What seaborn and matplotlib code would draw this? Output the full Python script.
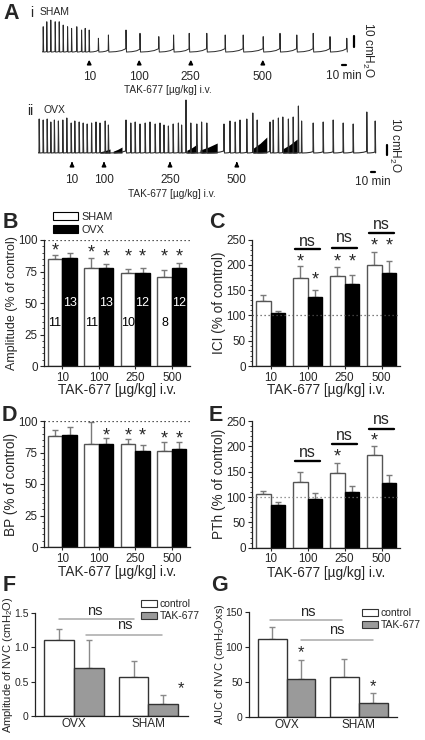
import numpy as np
import pandas as pd
import matplotlib
matplotlib.use("Agg")
import matplotlib.pyplot as plt
from matplotlib.patches import Patch
from matplotlib.ticker import MultipleLocator
import seaborn as sns

# ---------------- data ----------------
dose_labels = ["10", "100", "250", "500"]
groups = ["SHAM", "OVX"]

# panel A: cystometry traces, time in min, void height in cmH2O above baseline
sham_dose_min = [118, 243, 372, 552]
sham_void_min = [3, 12, 22, 33, 43, 53, 64, 74, 87, 99, 108, 118,
                 141, 166, 210, 245, 292, 329, 368, 412, 458, 503, 553, 595, 637, 678, 720, 762]
sham_void_cm = [23, 27.5, 29, 27.5, 27.5, 24.5, 23, 21.5, 23, 20, 21.5, 20,
                12.5, 15.5, 20, 17, 14, 15.5, 17, 17, 15.5, 15.5, 14, 17, 15.5, 17, 14, 12.5]

ovx_dose_min = [85, 165, 330, 497]
ovx_void_min = [3, 13, 23, 32, 41, 51, 62, 72, 83, 92,
                103, 113, 123, 134, 145, 155, 168, 176, 220, 232,
                243, 255, 268, 280, 293, 305, 315, 326, 338, 351,
                359, 370, 382, 397, 409, 422, 465, 480, 493, 505,
                522, 537, 548, 580, 588, 601, 612, 626, 638, 651,
                659, 688, 713, 738, 763, 788, 822, 843]
ovx_void_cm = [34, 33, 34, 31, 33, 32, 33, 35, 30, 32,
               31, 30, 29, 30, 31, 30, 32, 28, 33, 30,
               31, 29, 30, 31, 29, 30, 28, 27, 29, 30,
               28, 53, 30, 29, 31, 30, 29, 32, 31, 33,
               34, 40, 33, 31, 33, 35, 36, 34, 36, 47,
               32, 30, 31, 33, 30, 29, 41, 32]
# non-voiding contraction clusters in OVX trace
ovx_nvc_start = [155, 188, 372, 405, 538, 612]
ovx_nvc_end = [180, 210, 398, 448, 572, 648]
ovx_nvc_cm = [4, 6, 9, 10, 16, 14]

# panels B-E: % of control, mean and SEM
amp_sham = [85, 78, 74, 71]
amp_sham_sem = [3, 7.5, 3, 5]
amp_ovx = [86, 78, 74, 78]
amp_ovx_sem = [3.5, 3, 4, 4]
amp_n_sham = [11, 11, 10, 8]
amp_n_ovx = [13, 13, 12, 12]

ici_sham = [128, 173, 177, 200]
ici_sham_sem = [12, 25, 18, 25]
ici_ovx = [104, 137, 163, 183]
ici_ovx_sem = [5, 14, 17, 24]

bp_sham = [88, 82, 82, 76]
bp_sham_sem = [5, 17, 3.5, 7]
bp_ovx = [89, 82, 76, 78]
bp_ovx_sem = [6.5, 4.5, 5, 5]

pth_sham = [105, 130, 148, 183]
pth_sham_sem = [7.5, 19, 20, 18]
pth_ovx = [84, 96, 110, 127]
pth_ovx_sem = [7, 11, 11, 16]

# significance marks: (dose index, group index, y)
amp_stars = [(0, 0, 95), (1, 0, 93), (1, 1, 90), (2, 0, 90), (2, 1, 90), (3, 0, 90), (3, 1, 90)]
ici_stars = [(1, 0, 215), (1, 1, 178), (2, 0, 215), (2, 1, 215), (3, 0, 246), (3, 1, 246)]
bp_stars = [(1, 1, 91.5), (2, 0, 91.5), (2, 1, 91.5), (3, 0, 89), (3, 1, 89)]
pth_stars = [(2, 0, 187), (3, 0, 219)]
# ns bars: (dose index, line y, text y)
ici_ns = [(1, 231, 246), (2, 234, 253), (3, 262, 279)]
pth_ns = [(1, 172, 187), (2, 204, 222), (3, 234, 252)]

# panels F, G: non-voiding contractions
nvc_groups = ["OVX", "SHAM"]
treatments = ["control", "TAK-677"]
nvc_amp_control = [1.1, 0.57]
nvc_amp_control_sem = [0.17, 0.23]
nvc_amp_tak = [0.7, 0.17]
nvc_amp_tak_sem = [0.41, 0.14]
nvc_auc_control = [111, 57]
nvc_auc_control_sem = [18, 26]
nvc_auc_tak = [54, 20]
nvc_auc_tak_sem = [27, 14]
# ns brackets: (x0, x1, line y, text x, text y)
nvc_amp_ns = [(-0.2, 0.8, 1.41, 0.28, 1.53), (0.16, 1.18, 1.18, 0.68, 1.33)]
nvc_auc_ns = [(-0.23, 0.77, 138.6, 0.29, 150), (0.2, 1.2, 110, 0.70, 124)]
nvc_amp_stars = [(1.43, 0.45)]
nvc_auc_stars = [(0.2, 97), (1.2, 48.6)]

# ---------------- style ----------------
sns.set_style("ticks")
plt.rcParams["font.family"] = ["Liberation Sans", "DejaVu Sans"]
plt.rcParams["mathtext.fontset"] = "custom"
plt.rcParams["mathtext.rm"] = "Liberation Sans"
plt.rcParams["mathtext.it"] = "Liberation Sans:italic"
plt.rcParams["axes.linewidth"] = 0.9
plt.rcParams["axes.edgecolor"] = "#222222"
plt.rcParams["xtick.major.size"] = 2.5
plt.rcParams["ytick.major.size"] = 3
plt.rcParams["xtick.major.pad"] = 1.5
plt.rcParams["ytick.major.pad"] = 1.5

W, H = 425, 740
fig = plt.figure(figsize=(W / 100, H / 100), dpi=100)


def add_axes(l, t, r, b):
    return fig.add_axes([l / W, 1 - b / H, (r - l) / W, (b - t) / H])


def letter(x, y, s):
    fig.text(x / W, 1 - y / H, s, fontsize=15.5, fontweight="bold", va="top", ha="left")


def star(ax, x, y, size=13):
    # the asterisk sits high in its text box, so nudge it down to centre the glyph on y
    ax.annotate("*", xy=(x, y), xytext=(0, -0.24 * size), textcoords="offset points",
                ha="center", va="center", fontsize=size, annotation_clip=False)


def sawtooth(times, heights, fill, lead=6):
    xs, ys = [times[0] - lead], [0.0]
    prev = times[0] - lead
    for t, h in zip(times, heights):
        gap = t - prev
        f = fill * min(1.0, gap / 40)
        xs += [prev + 0.4 * gap, t - 0.25 * gap, t - 0.6, t, t + 1.2]
        ys += [0.12 * f, 0.45 * f, f, h, 0.0]
        prev = t + 1.2
    return xs, ys


def trace_panel(ax, times, heights, fill, doses, arrow, y_num, y_lab, x_lab, color, lw):
    xs, ys = sawtooth(times, heights, fill)
    ax.plot(xs, ys, color=color, lw=lw)
    for t, d in zip(doses, dose_labels):
        ax.annotate("", xy=(t, arrow[0]), xytext=(t, arrow[1]),
                    arrowprops=dict(arrowstyle="-|>", color="black", lw=1.1, mutation_scale=6),
                    annotation_clip=False)
        ax.text(t, y_num, d, ha="center", va="center", fontsize=8.5)
    ax.text(x_lab, y_lab, "TAK-677 [\u00b5g/kg] i.v.", ha="center", va="center", fontsize=7.3)
    ax.axis("off")


def scale_bars(ax, xv, yv, xh, yh, tmin, tcm):
    ax.plot([xv, xv], yv, color="black", lw=1.6, clip_on=False)
    ax.plot(xh, [yh, yh], color="black", lw=1.6, clip_on=False)
    ax.text(np.mean(xh), tmin, "10 min", ha="center", va="center", fontsize=8.5)
    ax.text(tcm[0], tcm[1], "10 cmH$_2$O", ha="center", va="center", fontsize=8.5, rotation=270)


def dose_bars(ax, sham, sham_sem, ovx, ovx_sem, ymax, step, ylabel, ref_color, xlab_y, ylab_size=9.8):
    df = pd.DataFrame({"dose": dose_labels * 2,
                       "group": ["SHAM"] * 4 + ["OVX"] * 4,
                       "value": sham + ovx})
    sns.barplot(data=df, x="dose", y="value", hue="group", hue_order=groups,
                palette={"SHAM": "white", "OVX": "black"}, errorbar=None, width=0.8,
                linewidth=1, edgecolor="black", legend=False, ax=ax, zorder=2)
    for p in ax.patches:
        if p.get_facecolor()[0] > 0.5:
            p.set_edgecolor("#555555")
    x = np.arange(len(dose_labels))
    for off, vals, sem in [(-0.2, sham, sham_sem), (0.2, ovx, ovx_sem)]:
        ax.errorbar(x + off, vals, yerr=[np.zeros(len(vals)), sem], fmt="none",
                    ecolor="#7a7a7a", elinewidth=1, capsize=2.3, capthick=1, zorder=1)
    ax.axhline(100, color=ref_color, lw=0.9, ls=(0, (1, 2.2)), zorder=3)
    ax.set_xlim(-0.5, 3.5)
    ax.set_ylim(0, ymax)
    ax.yaxis.set_major_locator(MultipleLocator(step))
    ax.yaxis.set_minor_locator(MultipleLocator(step / 5))
    ax.tick_params(axis="y", which="minor", length=1.5)
    ax.tick_params(labelsize=8.4)
    sns.despine(ax=ax)
    ax.set_ylabel(ylabel, fontsize=ylab_size)
    ax.set_xlabel("TAK-677 [\u00b5g/kg] i.v.", fontsize=9.8, va="top")
    ax.yaxis.set_label_coords(-0.178, 0.5)
    ax.xaxis.set_label_coords(0.5, xlab_y)


def stars(ax, marks):
    for di, gi, y in marks:
        star(ax, di + (-0.2 if gi == 0 else 0.2), y)


def ns_bars(ax, marks):
    for di, ly, ty in marks:
        ax.plot([di - 0.34, di + 0.34], [ly, ly], color="black", lw=1.7, clip_on=False)
        ax.text(di, ty, "ns", ha="center", va="center", fontsize=11.5)


def nvc_bars(ax, ctrl, ctrl_sem, tak, tak_sem, ymax, ticks, ticklabels, ylabel, ns, st, lab_x):
    df = pd.DataFrame({"grp": nvc_groups * 2,
                       "treat": ["control"] * 2 + ["TAK-677"] * 2,
                       "value": ctrl + tak})
    sns.barplot(data=df, x="grp", y="value", hue="treat", hue_order=treatments,
                palette={"control": "white", "TAK-677": "#9a9a9a"}, errorbar=None, width=0.8,
                linewidth=1, edgecolor="#333333", legend=False, ax=ax, zorder=2)
    x = np.arange(len(nvc_groups))
    for off, vals, sem in [(-0.2, ctrl, ctrl_sem), (0.2, tak, tak_sem)]:
        ax.errorbar(x + off, vals, yerr=[np.zeros(len(vals)), sem], fmt="none",
                    ecolor="#8a8a8a", elinewidth=1, capsize=2.5, capthick=1, zorder=1)
    for x0, x1, ly, tx, ty in ns:
        ax.plot([x0, x1], [ly, ly], color="#a8a8a8", lw=1.1, clip_on=False)
        ax.text(tx, ty, "ns", ha="center", va="center", fontsize=10.5)
    for sx, sy in st:
        star(ax, sx, sy, 12)
    ax.set_xlim(-0.52, 1.53)
    ax.set_ylim(0, ymax)
    ax.set_yticks(ticks)
    ax.set_yticklabels(ticklabels)
    ax.tick_params(labelsize=7.5)
    ax.tick_params(axis="x", length=0, labelsize=8.5)
    sns.despine(ax=ax)
    ax.set_xlabel("")
    ax.set_ylabel(ylabel, fontsize=8)
    ax.yaxis.set_label_coords(lab_x, 0.5)


# ---------------- panel A ----------------
letter(3, 3, "A")
fig.text(30 / W, 1 - 13 / H, "i", fontsize=10, va="center")
fig.text(40 / W, 1 - 12 / H, "SHAM", fontsize=7.5, va="center")
fig.text(27 / W, 1 - 111 / H, "ii", fontsize=10, va="center")
fig.text(43 / W, 1 - 110 / H, "OVX", fontsize=7.5, va="center")

ax_i = add_axes(42, 18, 362, 56)
ax_i.set_xlim(0, 800)
ax_i.set_ylim(-3.6, 30.9)
trace_panel(ax_i, sham_void_min, sham_void_cm, 3.0, sham_dose_min, (-4.5, -12.7), -22.7, -34.5, 315,
            "#2a2a2a", 0.7)
scale_bars(ax_i, 780, [4.5, 14.5], [751, 759], -11.8, -21.8, (815, 1.8))

ax_ii = add_axes(38, 96, 398, 156)
ax_ii.set_xlim(0, 900)
ax_ii.set_ylim(-3, 57)
for s, e, h in zip(ovx_nvc_start, ovx_nvc_end, ovx_nvc_cm):
    ax_ii.fill_between([s, (s + e) / 2, e], [0, 0, 0], [h * 0.3, h * 0.6, h], color="black", lw=0)
trace_panel(ax_ii, ovx_void_min, ovx_void_cm, 2.0, ovx_dose_min, (-6, -14), -27, -41, 335,
            "#2f2f2f", 0.8)
scale_bars(ax_ii, 872, [-2, 8], [832, 842], -19, -29, (892, 8))

# ---------------- panels B-E ----------------
ax_b = add_axes(44, 240, 190, 366)
dose_bars(ax_b, amp_sham, amp_sham_sem, amp_ovx, amp_ovx_sem, 100, 25, "Amplitude (% of control)",
          "#222222", -0.135, 9.0)
stars(ax_b, amp_stars)
for i in range(4):
    ax_b.text(i - 0.2, 34, str(amp_n_sham[i]), ha="center", va="center", fontsize=9, color="black")
    ax_b.text(i + 0.2, 50, str(amp_n_ovx[i]), ha="center", va="center", fontsize=9, color="white")
ax_b.legend(handles=[Patch(facecolor="white", edgecolor="black", lw=0.8, label="SHAM"),
                     Patch(facecolor="black", edgecolor="black", lw=0.8, label="OVX")],
            loc="upper left", bbox_to_anchor=(0.062, 1.222), frameon=False, fontsize=7.8,
            handlelength=2.3, handleheight=0.7, labelspacing=0.25, handletextpad=0.3,
            borderpad=0, borderaxespad=0)

ax_c = add_axes(252, 239.5, 400, 366)
dose_bars(ax_c, ici_sham, ici_sham_sem, ici_ovx, ici_ovx_sem, 250, 50, "ICI (% of control)",
          "#555555", -0.135)
stars(ax_c, ici_stars)
ns_bars(ax_c, ici_ns)

ax_d = add_axes(44, 421, 190, 547)
dose_bars(ax_d, bp_sham, bp_sham_sem, bp_ovx, bp_ovx_sem, 100, 25, "BP (% of control)",
          "#222222", -0.145)
stars(ax_d, bp_stars)

ax_e = add_axes(252, 421, 400, 547.7)
dose_bars(ax_e, pth_sham, pth_sham_sem, pth_ovx, pth_ovx_sem, 250, 50, "PTh (% of control)",
          "#777777", -0.145)
stars(ax_e, pth_stars)
ns_bars(ax_e, pth_ns)

letter(3, 212, "B")
letter(209, 212, "C")
letter(2, 405, "D")
letter(209, 405, "E")

# ---------------- panels F, G ----------------
ax_f = add_axes(35, 613, 188, 716)
nvc_bars(ax_f, nvc_amp_control, nvc_amp_control_sem, nvc_amp_tak, nvc_amp_tak_sem, 1.5,
         [0, 0.5, 1.0, 1.5], ["0", "0.5", "1.0", "1.5"], "Amplitude of NVC (cmH$_2$O)",
         nvc_amp_ns, nvc_amp_stars, -0.132)
ax_f.legend(handles=[Patch(facecolor="white", edgecolor="#333333", lw=0.8, label="control"),
                     Patch(facecolor="#9a9a9a", edgecolor="#333333", lw=0.8, label="TAK-677")],
            loc="upper left", bbox_to_anchor=(0.693, 1.136), frameon=False, fontsize=7.5,
            handlelength=1.5, handleheight=0.6, labelspacing=0.2, handletextpad=0.3,
            borderpad=0, borderaxespad=0)

ax_g = add_axes(249, 612, 397, 717)
nvc_bars(ax_g, nvc_auc_control, nvc_auc_control_sem, nvc_auc_tak, nvc_auc_tak_sem, 150,
         [0, 50, 100, 150], ["0", "50", "100", "150"], "AUC of NVC (cmH$_2$Oxs)",
         nvc_auc_ns, nvc_auc_stars, -0.152)
ax_g.legend(handles=[Patch(facecolor="white", edgecolor="#333333", lw=0.8, label="control"),
                     Patch(facecolor="#9a9a9a", edgecolor="#333333", lw=0.8, label="TAK-677")],
            loc="upper left", bbox_to_anchor=(0.764, 1.038), frameon=False, fontsize=7.5,
            handlelength=1.5, handleheight=0.6, labelspacing=0.2, handletextpad=0.3,
            borderpad=0, borderaxespad=0)

letter(3, 575, "F")
letter(211, 575, "G")

fig.savefig("out.png", dpi=100)
